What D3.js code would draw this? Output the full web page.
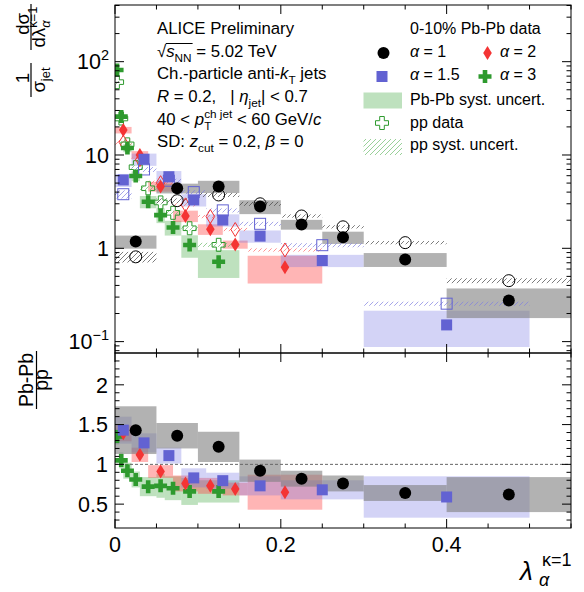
<!DOCTYPE html>
<html>
<head>
<meta charset="utf-8">
<script src="https://cdn.jsdelivr.net/npm/d3@7"></script>
<style>
  body { margin: 0; background: #fff; }
  text { font-family: "Liberation Sans", Arial, sans-serif; fill: #000; }
</style>
</head>
<body>
<svg id="chart" width="584" height="592"></svg>
<script>
// alpha = 1 (circles)
const a1Lo = [0, 0.05, 0.1, 0.15, 0.2, 0.25, 0.3, 0.4];
const a1Hi = [0.05, 0.1, 0.15, 0.2, 0.25, 0.3, 0.4, 0.55];
const a1X = [0.025, 0.075, 0.125, 0.175, 0.225, 0.275, 0.35, 0.475];
const a1PbPb = [1.18, 4.4, 4.6, 2.8, 1.8, 1.31, 0.76, 0.275];
const a1PbPbSys = [0.16, 0.12, 0.15, 0.17, 0.12, 0.15, 0.17, 0.35];
const a1Pp = [0.81, 3.24, 3.73, 3.0, 2.22, 1.7, 1.15, 0.45];
const a1PpSys = [0.13, 0.06, 0.05, 0.05, 0.04, 0.04, 0.04, 0.06];
const a1Ratio = [1.43, 1.36, 1.22, 0.92, 0.82, 0.76, 0.64, 0.62];
const a1RatioSys = [0.3, 0.16, 0.19, 0.14, 0.1, 0.1, 0.1, 0.22];

// alpha = 1.5 (squares)
const a15Lo = [0, 0.02, 0.05, 0.08, 0.11, 0.15, 0.2, 0.3];
const a15Hi = [0.02, 0.05, 0.08, 0.11, 0.15, 0.2, 0.3, 0.5];
const a15X = [0.01, 0.035, 0.065, 0.095, 0.13, 0.175, 0.25, 0.4];
const a15PbPb = [5.4, 9.0, 5.85, 3.3, 2.01, 1.35, 0.74, 0.151];
const a15PbPbSys = [0.16, 0.15, 0.15, 0.15, 0.15, 0.15, 0.15, 0.42];
const a15Pp = [3.8, 7.0, 5.3, 4.0, 2.55, 1.83, 1.08, 0.255];
const a15PpSys = [0.1, 0.06, 0.05, 0.05, 0.05, 0.05, 0.05, 0.05];
const a15Ratio = [1.43, 1.27, 1.11, 0.83, 0.795, 0.73, 0.68, 0.59];
const a15RatioSys = [0.17, 0.12, 0.1, 0.12, 0.1, 0.12, 0.12, 0.26];

// alpha = 2 (diamonds)
const a2Lo = [0, 0.02, 0.04, 0.07, 0.1, 0.13, 0.16];
const a2Hi = [0.02, 0.04, 0.07, 0.1, 0.13, 0.16, 0.25];
const a2X = [0.01, 0.03, 0.055, 0.085, 0.115, 0.145, 0.205];
const a2PbPb = [18.5, 10.0, 4.6, 2.22, 1.6, 1.1, 0.626];
const a2PbPbSys = [0.08, 0.1, 0.12, 0.14, 0.13, 0.1, 0.33];
const a2Pp = [13.7, 8.9, 5.05, 2.92, 2.19, 1.59, 0.96];
const a2PpSys = [0.06, 0.05, 0.05, 0.04, 0.04, 0.04, 0.04];
const a2Ratio = [1.39, 1.12, 0.91, 0.76, 0.73, 0.69, 0.65];
const a2RatioSys = [0.1, 0.09, 0.08, 0.1, 0.1, 0.08, 0.22];

// alpha = 3 (crosses)
const a3Lo = [0, 0.005, 0.01, 0.02, 0.03, 0.05, 0.06, 0.08, 0.1];
const a3Hi = [0.005, 0.01, 0.02, 0.03, 0.05, 0.06, 0.08, 0.1, 0.15];
const a3X = [0.0025, 0.0075, 0.015, 0.025, 0.04, 0.055, 0.07, 0.09, 0.125];
const a3PbPb = [81.5, 25.8, 11.9, 5.96, 3.16, 2.27, 1.67, 1.085, 0.718];
const a3PbPbSys = [0.1, 0.1, 0.1, 0.12, 0.15, 0.18, 0.18, 0.27, 0.33];
const a3Pp = [60.4, 24.6, 13.0, 7.4, 4.4, 3.1, 2.4, 1.64, 1.09];
const a3PpSys = [0.06, 0.05, 0.05, 0.05, 0.05, 0.05, 0.05, 0.05, 0.05];
const a3Ratio = [1.35, 1.05, 0.92, 0.81, 0.72, 0.73, 0.70, 0.66, 0.66];
const a3RatioSys = [0.1, 0.1, 0.1, 0.1, 0.12, 0.15, 0.15, 0.17, 0.14];

// axis ticks
const xTickLabels = [0, 0.2, 0.4];
const upperTickLabels = [0.1, 1, 10, 100];
const ratioTickLabels = [0.5, 1, 1.5, 2];

const svg = d3.select('#chart');

const x = d3.scaleLinear().domain([0, 0.55]).range([115, 571]);
const yUp = d3.scaleLog().domain([0.0755, 405]).range([353, 5]);
const yRat = d3.scaleLinear().domain([0.2, 2.4]).range([528, 353]);

const series = [
  { id: 'a3', shape: 'plus', color: '#2e9a2e', box: '#3aa53a', boxOp: 0.33, hatch: '#6dbb6d',
    lo: a3Lo, hi: a3Hi, x: a3X, pbpb: a3PbPb, pbpbSys: a3PbPbSys, pp: a3Pp, ppSys: a3PpSys, ratio: a3Ratio, ratioSys: a3RatioSys },
  { id: 'a2', shape: 'diamond', color: '#f43434', box: '#ff3c3c', boxOp: 0.38, hatch: '#ff6464',
    lo: a2Lo, hi: a2Hi, x: a2X, pbpb: a2PbPb, pbpbSys: a2PbPbSys, pp: a2Pp, ppSys: a2PpSys, ratio: a2Ratio, ratioSys: a2RatioSys },
  { id: 'a15', shape: 'square', color: '#6262d2', box: '#6e6ee0', boxOp: 0.3, hatch: '#8080e0',
    lo: a15Lo, hi: a15Hi, x: a15X, pbpb: a15PbPb, pbpbSys: a15PbPbSys, pp: a15Pp, ppSys: a15PpSys, ratio: a15Ratio, ratioSys: a15RatioSys },
  { id: 'a1', shape: 'circle', color: '#000000', box: '#7f7f7f', boxOp: 0.6, hatch: '#444444',
    lo: a1Lo, hi: a1Hi, x: a1X, pbpb: a1PbPb, pbpbSys: a1PbPbSys, pp: a1Pp, ppSys: a1PpSys, ratio: a1Ratio, ratioSys: a1RatioSys }
];

// hatch patterns + clips
const defs = svg.append('defs');
series.forEach(s => {
  defs.append('pattern')
    .attr('id', 'hatch-' + s.id)
    .attr('patternUnits', 'userSpaceOnUse')
    .attr('width', 5).attr('height', 5)
    .append('path')
    .attr('d', 'M-1,1 l2,-2 M0,5 l5,-5 M4,6 l2,-2')
    .attr('stroke', s.hatch).attr('stroke-width', 0.7);
});
defs.append('clipPath').attr('id', 'clipUp')
  .append('rect').attr('x', 115).attr('y', 5).attr('width', 456).attr('height', 348);
defs.append('clipPath').attr('id', 'clipRat')
  .append('rect').attr('x', 115).attr('y', 353).attr('width', 456).attr('height', 175);

function marker(g, shape, cx, cy, color, open) {
  let el;
  if (shape === 'circle') {
    el = g.append('circle').attr('cx', cx).attr('cy', cy).attr('r', 6);
  } else if (shape === 'square') {
    el = g.append('rect').attr('x', cx - 5.5).attr('y', cy - 5.5).attr('width', 11).attr('height', 11);
  } else if (shape === 'diamond') {
    el = g.append('path').attr('d', `M${cx},${cy - 7}L${cx + 4.3},${cy}L${cx},${cy + 7}L${cx - 4.3},${cy}Z`);
  } else {
    const a = 6.5, b = 2.3;
    el = g.append('path').attr('d',
      `M${cx - b},${cy - a}H${cx + b}V${cy - b}H${cx + a}V${cy + b}H${cx + b}V${cy + a}` +
      `H${cx - b}V${cy + b}H${cx - a}V${cy - b}H${cx - b}Z`);
  }
  if (open) el.attr('fill', 'none').attr('stroke', color).attr('stroke-width', 1);
  else el.attr('fill', color);
  return el;
}

// ---------- upper panel ----------
const up = svg.append('g').attr('clip-path', 'url(#clipUp)');

series.forEach(s => {
  up.append('g').selectAll('rect').data(s.x).join('rect')
    .attr('x', (d, i) => x(s.lo[i]))
    .attr('width', (d, i) => x(s.hi[i]) - x(s.lo[i]))
    .attr('y', (d, i) => yUp(s.pbpb[i] * (1 + s.pbpbSys[i])))
    .attr('height', (d, i) => yUp(s.pbpb[i] * (1 - s.pbpbSys[i])) - yUp(s.pbpb[i] * (1 + s.pbpbSys[i])))
    .attr('fill', s.box).attr('fill-opacity', s.boxOp);
});
series.forEach(s => {
  up.append('g').selectAll('rect').data(s.x).join('rect')
    .attr('x', (d, i) => x(s.lo[i]))
    .attr('width', (d, i) => x(s.hi[i]) - x(s.lo[i]))
    .attr('y', (d, i) => yUp(s.pp[i] * (1 + s.ppSys[i])))
    .attr('height', (d, i) => yUp(s.pp[i] * (1 - s.ppSys[i])) - yUp(s.pp[i] * (1 + s.ppSys[i])))
    .attr('fill', `url(#hatch-${s.id})`);
});
series.forEach(s => {
  s.x.forEach((v, i) => marker(up, s.shape, x(v), yUp(s.pp[i]), s.color, true));
});
series.forEach(s => {
  s.x.forEach((v, i) => marker(up, s.shape, x(v), yUp(s.pbpb[i]), s.color, false));
});

// ---------- ratio panel ----------
const rat = svg.append('g').attr('clip-path', 'url(#clipRat)');
series.forEach(s => {
  rat.append('g').selectAll('rect').data(s.x).join('rect')
    .attr('x', (d, i) => x(s.lo[i]))
    .attr('width', (d, i) => x(s.hi[i]) - x(s.lo[i]))
    .attr('y', (d, i) => yRat(s.ratio[i] + s.ratioSys[i]))
    .attr('height', (d, i) => yRat(s.ratio[i] - s.ratioSys[i]) - yRat(s.ratio[i] + s.ratioSys[i]))
    .attr('fill', s.box).attr('fill-opacity', s.boxOp);
});
rat.append('line')
  .attr('x1', x(0)).attr('x2', x(0.55)).attr('y1', yRat(1)).attr('y2', yRat(1))
  .attr('stroke', '#666').attr('stroke-width', 1).attr('stroke-dasharray', '3,2');
series.forEach(s => {
  s.x.forEach((v, i) => marker(rat, s.shape, x(v), yRat(s.ratio[i]), s.color, false));
});

// ---------- frames and ticks ----------
const axes = svg.append('g').attr('stroke', '#000').attr('stroke-width', 1);
axes.append('rect').attr('x', 115).attr('y', 5).attr('width', 456).attr('height', 348).attr('fill', 'none');
axes.append('rect').attr('x', 115).attr('y', 353).attr('width', 456).attr('height', 175).attr('fill', 'none');

const xMinor = d3.range(0, 0.551, 0.05);
function xTicks(yTopEdge, yBotEdge) {
  xMinor.forEach(v => {
    const major = Math.abs(v / 0.2 - Math.round(v / 0.2)) < 1e-6;
    const len = major ? 9 : 4.5;
    axes.append('line').attr('x1', x(v)).attr('x2', x(v)).attr('y1', yBotEdge).attr('y2', yBotEdge - len);
    axes.append('line').attr('x1', x(v)).attr('x2', x(v)).attr('y1', yTopEdge).attr('y2', yTopEdge + len);
  });
}
xTicks(5, 353);
xTicks(353, 528);

function yTick(yy, len) {
  axes.append('line').attr('x1', 115).attr('x2', 115 + len).attr('y1', yy).attr('y2', yy);
  axes.append('line').attr('x1', 571).attr('x2', 571 - len).attr('y1', yy).attr('y2', yy);
}
[-2, -1, 0, 1, 2].forEach(p => {
  for (let m = 1; m <= 9; m++) {
    const v = m * Math.pow(10, p);
    if (v < 0.0755 || v > 405) continue;
    yTick(yUp(v), m === 1 ? 9 : 4.5);
  }
});
d3.range(0.2, 2.41, 0.1).forEach(v => {
  const r = Math.round(v * 10) / 10;
  if (r <= 0.2 || r >= 2.4) return;
  const major = Math.abs(r * 2 - Math.round(r * 2)) < 1e-6;
  yTick(yRat(r), major ? 9 : 4.5);
});

// ---------- tick labels ----------
const lab = svg.append('g');
xTickLabels.forEach(v => {
  lab.append('text').attr('x', x(v)).attr('y', 552).attr('font-size', 21.5)
    .attr('text-anchor', 'middle').text(v === 0 ? '0' : v.toFixed(1));
});
upperTickLabels.forEach(v => {
  const t = lab.append('text').attr('x', 109).attr('y', yUp(v) + 7.7).attr('font-size', 21.5).attr('text-anchor', 'end');
  if (v === 1) t.text('1');
  else if (v === 10) t.text('10');
  else {
    t.append('tspan').text('10');
    t.append('tspan').attr('dy', -9).attr('font-size', 14.5).text(v === 100 ? '2' : '\u22121');
  }
});
ratioTickLabels.forEach(v => {
  lab.append('text').attr('x', 108).attr('y', yRat(v) + 7.7).attr('font-size', 21.5)
    .attr('text-anchor', 'end').text(String(v));
});

// rich text helper: parts {t, i, sub, sup, stack}
function rich(g, px, py, size, parts, anchor) {
  const t = g.append('text').attr('x', px).attr('y', py).attr('font-size', size);
  if (anchor) t.attr('text-anchor', anchor);
  let cur = 0, prevW = 0, pend = 0;
  parts.forEach(p => {
    const off = p.sub ? size * 0.3 : p.sup ? -size * 0.42 : 0;
    const s = t.append('tspan').attr('dy', off - cur).text(p.t);
    cur = off;
    if (p.sub || p.sup) s.attr('font-size', size * 0.7);
    if (p.i) s.attr('font-style', 'italic');
    let dx = pend;
    pend = 0;
    if (p.stack) dx -= prevW;
    if (dx) s.attr('dx', dx);
    const w = s.node().getComputedTextLength();
    if (p.stack && prevW > w) pend = prevW - w;
    prevW = w;
  });
  return t;
}

// ---------- annotation block ----------
const ann = svg.append('g');
const fs = 16.8;
const nb = '\u00A0';
rich(ann, 157, 33.5, fs, [{ t: 'ALICE Preliminary' }]);
const sq = rich(ann, 157, 57, fs, [{ t: '\u221A' }, { t: 's', i: true }, { t: 'NN', sub: true }, { t: ' = 5.02 TeV' }]);
{
  const n = sq.node();
  const r0 = n.getExtentOfChar(0);
  const r3 = n.getExtentOfChar(3);
  ann.append('line').attr('x1', r0.x + r0.width - 0.5).attr('x2', r3.x + r3.width + 1)
    .attr('y1', r0.y + 1.5).attr('y2', r0.y + 1.5).attr('stroke', '#000').attr('stroke-width', 1);
}
rich(ann, 157, 79, fs, [{ t: 'Ch.-particle anti-' }, { t: 'k', i: true }, { t: 'T', sub: true }, { t: ' jets' }]);
rich(ann, 157, 102, fs, [{ t: 'R', i: true }, { t: ' = 0.2,' + nb + nb + nb + '|' + nb }, { t: '\u03B7', i: true }, { t: 'jet', sub: true }, { t: '| < 0.7' }]);
rich(ann, 157, 125, fs, [{ t: '40 < ' }, { t: 'p', i: true }, { t: 'ch jet', sup: true }, { t: 'T', sub: true, stack: true },
  { t: ' < 60 GeV/' }, { t: 'c', i: true }]);
rich(ann, 157, 147, fs, [{ t: 'SD: ' }, { t: 'z', i: true }, { t: 'cut', sub: true }, { t: ' = 0.2, ' }, { t: '\u03B2', i: true }, { t: ' = 0' }]);

// ---------- legend ----------
const leg = svg.append('g');
const lfs = 16;
rich(leg, 410, 34, lfs, [{ t: '0-10% Pb-Pb data' }]);
marker(leg, 'circle', 383.5, 53, '#000000', false);
rich(leg, 410, 57, lfs, [{ t: '\u03B1', i: true }, { t: ' = 1' }]);
marker(leg, 'diamond', 487.5, 53, '#f43434', false);
rich(leg, 500, 57, lfs, [{ t: '\u03B1', i: true }, { t: ' = 2' }]);
marker(leg, 'square', 382, 76.5, '#6262d2', false);
rich(leg, 410, 80, lfs, [{ t: '\u03B1', i: true }, { t: ' = 1.5' }]);
marker(leg, 'plus', 485, 76.5, '#2e9a2e', false);
rich(leg, 500, 80, lfs, [{ t: '\u03B1', i: true }, { t: ' = 3' }]);
leg.append('rect').attr('x', 363.5).attr('y', 92.5).attr('width', 38.5).attr('height', 16)
  .attr('fill', '#3aa53a').attr('fill-opacity', 0.33);
rich(leg, 410, 105, lfs, [{ t: 'Pb-Pb syst. uncert.' }]);
marker(leg, 'plus', 382, 123, '#2e9a2e', true);
rich(leg, 410, 128, lfs, [{ t: 'pp data' }]);
leg.append('rect').attr('x', 363.5).attr('y', 139).attr('width', 38.5).attr('height', 16)
  .attr('fill', 'url(#hatch-a3)');
rich(leg, 410, 150, lfs, [{ t: 'pp syst. uncert.' }]);

// ---------- axis titles ----------
const tfs = 18.5;
const yt = svg.append('g').attr('transform', 'rotate(-90)');
rich(yt, -78, 29, tfs, [{ t: '1' }], 'middle');
yt.append('line').attr('x1', -97).attr('x2', -63).attr('y1', 31).attr('y2', 31).attr('stroke', '#000').attr('stroke-width', 1.2);
rich(yt, -80, 44.5, tfs, [{ t: '\u03C3' }, { t: 'jet', sub: true }], 'middle');
rich(yt, -24, 29, tfs, [{ t: 'd\u03C3' }], 'middle');
yt.append('line').attr('x1', -50).attr('x2', -4).attr('y1', 31).attr('y2', 31).attr('stroke', '#000').attr('stroke-width', 1.2);
rich(yt, -27, 44.5, tfs, [{ t: 'd\u03BB' }, { t: '\u03B1', sub: true, i: true }, { t: '\u03BA=1', sup: true, stack: true }], 'middle');

rich(yt, -380, 33, 19.5, [{ t: 'Pb-Pb' }], 'middle');
yt.append('line').attr('x1', -409).attr('x2', -351).attr('y1', 36.5).attr('y2', 36.5).attr('stroke', '#000').attr('stroke-width', 1.2);
rich(yt, -380, 48, 19.5, [{ t: 'pp' }], 'middle');

svg.append('text').attr('x', 520).attr('y', 579.5).attr('font-size', 26).attr('font-style', 'italic').text('\u03BB');
svg.append('text').attr('x', 542).attr('y', 566).attr('font-size', 18).text('\u03BA=1');
svg.append('text').attr('x', 539).attr('y', 586).attr('font-size', 18).attr('font-style', 'italic').text('\u03B1');
</script>
</body>
</html>
